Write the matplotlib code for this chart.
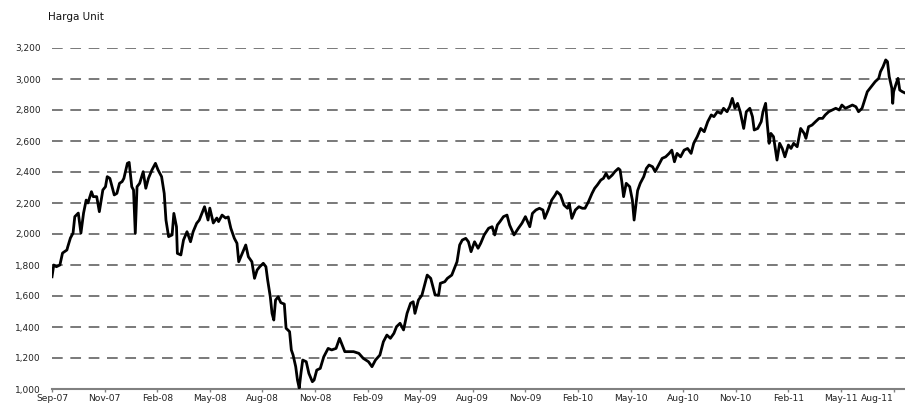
import numpy as np
import matplotlib.pyplot as plt

# trading-day index (60 days between axis labels) and unit price
day = [0, 2, 5, 9, 12, 17, 18, 21, 24, 26, 30, 33, 36, 39, 41, 45, 47, 51, 54, 58,
       61, 63, 66, 71, 74, 77, 80, 82, 86, 88, 91, 93, 95, 97, 100, 104, 107, 110, 114, 118,
       121, 125, 128, 130, 133, 137, 139, 142, 143, 147, 150, 154, 158, 161, 165, 168,
       174, 178, 180, 184, 188, 190, 194, 198, 201, 204, 208, 211, 213, 217, 221, 224,
       228, 231, 234, 237, 241, 244, 246, 249, 251, 253, 255, 258, 261, 265, 267, 271,
       273, 275, 278, 280, 282, 284, 286, 290, 293, 297, 299, 302, 306, 310, 315, 319,
       324, 328, 331, 334,
       338, 344, 350, 355, 361, 365, 369, 374, 378, 382, 386, 390, 393, 397, 401, 405,
       409, 412, 414, 418, 422, 425, 428, 432, 437, 441, 443, 448, 451, 456, 459, 462,
       465, 468, 472, 475, 478, 482, 486, 489, 493,
       498, 502, 505, 508, 511, 515, 519, 522, 527, 532, 536, 540, 545, 548, 552, 556,
       560, 562, 566, 570, 574, 576, 580, 584, 588, 590, 593, 597, 601, 605, 608, 612,
       616, 619, 622, 626, 629, 632, 635, 639, 642, 646, 648, 650, 652, 655, 659, 662, 664,
       668, 671, 675, 678, 681, 685, 688, 692, 696, 700, 704, 707, 710, 713, 717, 721,
       725, 729, 732, 736, 740, 744, 748, 752, 755, 759, 763, 766, 770, 773, 776, 779,
       782, 785, 789, 792, 796, 799, 801, 805, 809, 811, 814, 816, 818, 820, 823, 827,
       830, 833, 836, 840, 843, 846, 850, 854, 858, 860, 863, 867, 871, 875, 879, 882,
       886, 890, 894, 898, 901, 905, 909, 913, 917, 920, 924, 927, 930, 933, 936, 939,
       943, 945, 948, 951, 953, 955, 958, 959, 960, 963, 965, 967, 970, 973]

price = [1724, 1800, 1789, 1800, 1877, 1897, 1918, 1974, 2006, 2112, 2135, 2006, 2135, 2219, 2200, 2273, 2241, 2241, 2144, 2284,
         2305, 2370, 2359, 2252, 2262, 2327, 2338, 2359, 2456, 2462, 2305, 2284, 2005, 2305, 2327, 2402, 2295, 2359, 2413, 2456,
         2413, 2370, 2262, 2090, 1983, 1994, 2133, 2047, 1875, 1865, 1961, 2015, 1950, 2015, 2069, 2090,
         2176, 2090, 2167, 2071, 2103, 2080, 2122, 2103, 2110, 2037, 1972, 1940, 1821, 1875, 1929, 1853,
         1821, 1714, 1768, 1789, 1811, 1789, 1703, 1595, 1488, 1445, 1574, 1595, 1557, 1548, 1392, 1370,
         1252, 1219, 1144, 1058, 1006, 1103, 1187, 1176, 1101, 1047, 1058, 1122, 1133, 1208, 1262, 1252,
         1262, 1327, 1284, 1241,
         1241, 1241, 1230, 1198, 1176, 1144, 1187, 1219, 1305, 1348, 1327, 1359, 1402, 1424, 1381, 1488,
         1553, 1563, 1488, 1574, 1606, 1671, 1735, 1714, 1606, 1606, 1682, 1692, 1714, 1735, 1778, 1821,
         1929, 1961, 1972, 1950, 1886, 1950, 1908, 1940, 1994,
         2037, 2047, 1994, 2058, 2080, 2112, 2122, 2058, 1994, 2037, 2069, 2112, 2047, 2133, 2155, 2166,
         2155, 2101, 2155, 2219, 2252, 2273, 2252, 2187, 2166, 2198, 2101, 2155, 2176, 2166, 2166, 2209,
         2262, 2295, 2316, 2348, 2359, 2391, 2359, 2380, 2402, 2423, 2413, 2337, 2241, 2327, 2305, 2219, 2090,
         2280, 2327, 2370, 2423, 2445, 2434, 2402, 2445, 2488, 2498, 2520, 2541, 2466, 2520, 2498, 2541,
         2552, 2520, 2585, 2628, 2681, 2660, 2725, 2768, 2757, 2789, 2778, 2811, 2789, 2821, 2875, 2811,
         2843, 2789, 2681, 2789, 2811, 2757, 2671, 2681, 2725, 2789, 2843, 2703, 2585, 2649, 2628, 2477,
         2585, 2552, 2498, 2574, 2552, 2585, 2563, 2681, 2649, 2617, 2692, 2703, 2725, 2746, 2746, 2768,
         2789, 2800, 2811, 2800, 2832, 2811, 2821, 2832, 2821, 2789, 2811, 2865, 2918, 2940, 2961, 2983,
         3004, 3047, 3080, 3123, 3112, 3015, 2940, 2843, 2918, 2972, 3004, 2929, 2918, 2910]

tick_labels = ['Sep-07', 'Nov-07', 'Feb-08', 'May-08', 'Aug-08', 'Nov-08', 'Feb-09', 'May-09',
               'Aug-09', 'Nov-09', 'Feb-10', 'May-10', 'Aug-10', 'Nov-10', 'Feb-11', 'May-11', 'Aug-11']
y_ticks = np.arange(1000, 3201, 200)

fig = plt.figure(figsize=(9.05, 4.04), dpi=100)
ax = fig.add_axes([52 / 905, 15 / 404, 1 - 52 / 905, 341 / 404])

# dashed horizontal gridlines, the 1,000 line is the axis itself
for v in y_ticks[1:]:
    ax.axhline(v, color='#555555', lw=1.1, ls=(0, (7, 5)), zorder=1)

ax.plot(day, price, color='black', lw=2.0, zorder=3)

ax.set_xlim(0, 973)
ax.set_ylim(1000, 3200)
ax.set_xticks(np.arange(0, 961, 60))
ax.set_xticklabels(tick_labels)
ax.set_yticks(y_ticks)
ax.set_yticklabels([f'{v:,}' for v in y_ticks])

for s in ['top', 'right', 'left']:
    ax.spines[s].set_visible(False)
ax.spines['bottom'].set_color('#808080')
ax.spines['bottom'].set_linewidth(1.5)
ax.tick_params(axis='x', direction='out', length=2.5, width=1, color='#808080',
               labelsize=6.6, pad=0.8, labelcolor='#222222')
ax.tick_params(axis='y', length=0, labelsize=6.5, pad=8, labelcolor='#222222')
for lab in ax.get_xticklabels():
    lab.set_horizontalalignment('center')
ax.get_xticklabels()[-1].set_horizontalalignment('right')

fig.text(48 / 905, 1 - 17 / 404, 'Harga Unit', fontsize=7.5, va='center', ha='left', color='#111111')

fig.savefig('out.png', dpi=100)
